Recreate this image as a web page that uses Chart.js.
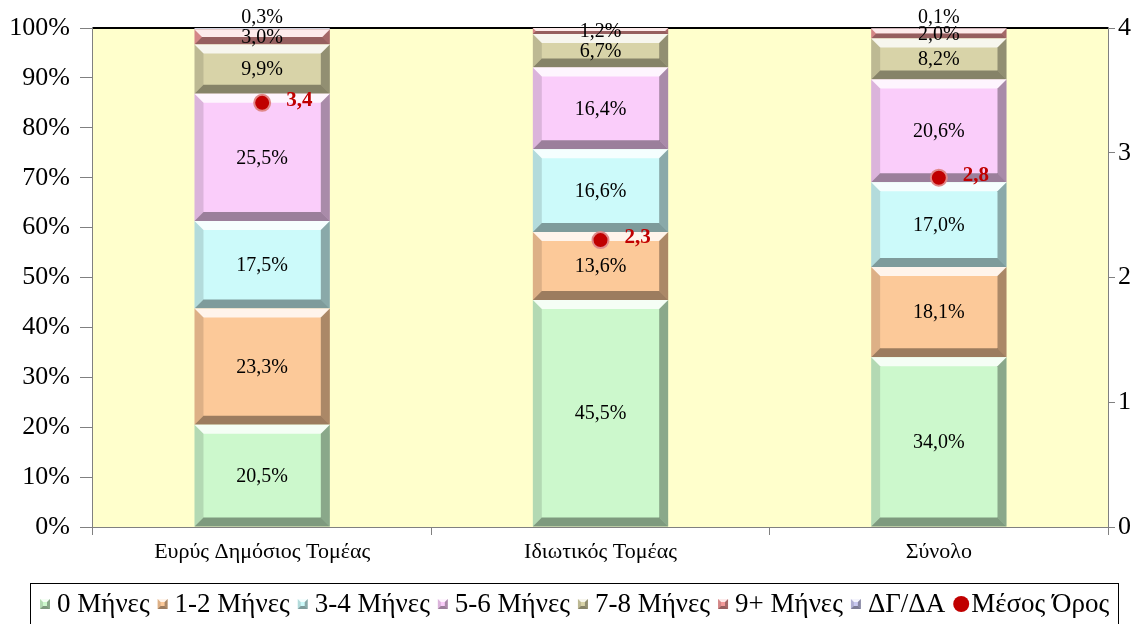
<!DOCTYPE html>
<html>
<head>
<meta charset="utf-8">
<script src="https://cdn.jsdelivr.net/npm/chart.js@4"></script>
<style>
  body { margin: 0; background: #fff; }
  #wrap { width: 1146px; height: 624px; }
</style>
</head>
<body>
<div id="wrap"><canvas id="chart" width="1146" height="624"></canvas></div>
<script>
const categories = ['Ευρύς Δημόσιος Τομέας', 'Ιδιωτικός Τομέας', 'Σύνολο'];
const seriesNames = ['0 Μήνες', '1-2 Μήνες', '3-4 Μήνες', '5-6 Μήνες', '7-8 Μήνες', '9+ Μήνες', 'ΔΓ/ΔΑ'];
const meanName = 'Μέσος Όρος';
const months0 = [20.5, 45.5, 34.0];
const months12 = [23.3, 13.6, 18.1];
const months34 = [17.5, 16.6, 17.0];
const months56 = [25.5, 16.4, 20.6];
const months78 = [9.9, 6.7, 8.2];
const months9 = [3.0, 1.2, 2.0];
const noAnswer = [0.3, 0, 0.1];
const meanValues = [3.4, 2.3, 2.8];
const leftTicks = [0, 10, 20, 30, 40, 50, 60, 70, 80, 90, 100];
const rightTicks = [0, 1, 2, 3, 4];

const seriesValues = [months0, months12, months34, months56, months78, months9, noAnswer];
const seriesColors = ['#ccf8cc', '#fcc999', '#ccfafa', '#facdfa', '#d8d3a8', '#f29a9a', '#c8c8f0'];
const meanColor = '#c00000';
const FONT = '"Liberation Serif", "Times New Roman", serif';

function fmt(v) {
    return v.toFixed(1).replace('.', ',');
}

function bevelRect(ctx, l, t, r, b, size) {
    const h = b - t;
    if (h < 0.5) return;
    const s = Math.min(size, h / 2, (r - l) / 2);
    const poly = (pts, col) => {
        ctx.fillStyle = col;
        ctx.beginPath();
        ctx.moveTo(pts[0][0], pts[0][1]);
        pts.slice(1).forEach(q => ctx.lineTo(q[0], q[1]));
        ctx.closePath();
        ctx.fill();
    };
    poly([[l, t], [r, t], [r - s, t + s], [l + s, t + s]], 'rgba(255,255,255,0.8)');
    poly([[l, t], [l + s, t + s], [l + s, b - s], [l, b]], 'rgba(0,0,0,0.12)');
    poly([[r, t], [r, b], [r - s, b - s], [r - s, t + s]], 'rgba(0,0,0,0.32)');
    poly([[l, b], [l + s, b - s], [r - s, b - s], [r, b]], 'rgba(0,0,0,0.38)');
}

// yellow plot area with a black top edge
const plotBackground = {
    id: 'plotBackground',
    beforeDatasetsDraw(chart) {
        const { ctx, chartArea: a } = chart;
        ctx.save();
        ctx.fillStyle = '#ffffcc';
        ctx.fillRect(a.left, a.top, a.right - a.left, a.bottom - a.top);
        ctx.strokeStyle = '#000';
        ctx.lineWidth = 2;
        ctx.beginPath();
        ctx.moveTo(a.left, a.top);
        ctx.lineTo(a.right, a.top);
        ctx.stroke();
        ctx.restore();
    }
};

// bevel right after each bar dataset so the dots stay on top
const bevel = {
    id: 'bevel',
    afterDatasetDraw(chart, args) {
        if (args.index >= seriesValues.length) return;
        const ctx = chart.ctx;
        ctx.save();
        args.meta.data.forEach(bar => {
            const p = bar.getProps(['x', 'y', 'base', 'width'], true);
            bevelRect(ctx, p.x - p.width / 2, Math.min(p.y, p.base), p.x + p.width / 2, Math.max(p.y, p.base), 9);
        });
        ctx.restore();
    }
};

// value labels on segments, mean labels next to the red dots
const valueLabels = {
    id: 'valueLabels',
    afterDraw(chart) {
        const ctx = chart.ctx;
        ctx.save();
        ctx.textAlign = 'center';
        ctx.textBaseline = 'middle';
        ctx.font = '20px ' + FONT;
        ctx.fillStyle = '#000';
        seriesValues.forEach((vals, di) => {
            chart.getDatasetMeta(di).data.forEach((bar, i) => {
                const v = vals[i];
                if (!v) return;
                const p = bar.getProps(['x', 'y', 'base'], true);
                if (di === seriesValues.length - 1) {
                    ctx.fillText(fmt(v) + '%', p.x, p.y - 10);
                } else {
                    ctx.fillText(fmt(v) + '%', p.x, (p.y + p.base) / 2 + 1);
                }
            });
        });
        ctx.font = 'bold 21px ' + FONT;
        ctx.fillStyle = meanColor;
        ctx.textAlign = 'left';
        chart.getDatasetMeta(seriesValues.length).data.forEach((pt, i) => {
            ctx.fillText(fmt(meanValues[i]), pt.x + 24, pt.y - 2);
        });
        ctx.restore();
    }
};

// boxed legend drawn by hand: tight spacing like the original
const boxedLegend = {
    id: 'boxedLegend',
    afterDraw(chart) {
        const ctx = chart.ctx;
        const cy = 604;
        ctx.save();
        ctx.strokeStyle = '#000';
        ctx.lineWidth = 1;
        ctx.strokeRect(30.5, 583.5, 1088, 45);
        ctx.font = '27px ' + FONT;
        ctx.textBaseline = 'middle';
        ctx.textAlign = 'left';
        let x = 40;
        seriesNames.forEach((name, i) => {
            ctx.fillStyle = seriesColors[i];
            ctx.fillRect(x, cy - 5, 10, 10);
            bevelRect(ctx, x, cy - 5, x + 10, cy + 5, 3);
            x += 17;
            ctx.fillStyle = '#000';
            ctx.fillText(name, x, cy + 1);
            x += ctx.measureText(name).width + 8;
        });
        ctx.fillStyle = meanColor;
        ctx.beginPath();
        ctx.arc(x + 8, cy, 8, 0, Math.PI * 2);
        ctx.fill();
        x += 18;
        ctx.fillStyle = '#000';
        ctx.fillText(meanName, x, cy + 1);
        ctx.restore();
    }
};

const datasets = seriesValues.map((vals, i) => ({
    type: 'bar',
    label: seriesNames[i],
    data: vals,
    backgroundColor: seriesColors[i],
    borderWidth: 0,
    barPercentage: 0.8,
    categoryPercentage: 0.5,
    yAxisID: 'y',
    order: 2
}));
datasets.push({
    type: 'line',
    label: meanName,
    data: meanValues,
    showLine: false,
    pointRadius: 8,
    pointHoverRadius: 8,
    pointBackgroundColor: meanColor,
    pointBorderColor: '#e08888',
    pointBorderWidth: 2,
    backgroundColor: meanColor,
    borderColor: meanColor,
    yAxisID: 'y1',
    order: 1
});

new Chart(document.getElementById('chart'), {
    data: { labels: categories, datasets: datasets },
    options: {
        responsive: false,
        animation: false,
        layout: { padding: { top: 28, left: 0, right: 0, bottom: 42 } },
        plugins: {
            tooltip: { enabled: false },
            legend: { display: false }
        },
        scales: {
            x: {
                stacked: true,
                grid: { drawOnChartArea: false, offset: true, color: '#808080', tickLength: 8 },
                border: { color: '#808080', width: 2 },
                ticks: { font: { family: FONT, size: 22 }, color: '#000', padding: 4 },
                afterFit(scale) { scale.height = 55; }
            },
            y: {
                stacked: true,
                min: 0,
                max: 100,
                afterBuildTicks(scale) { scale.ticks = leftTicks.map(v => ({ value: v })); },
                ticks: { font: { family: FONT, size: 26 }, color: '#000', callback: v => v + '%', padding: 10 },
                grid: { drawOnChartArea: false, color: '#808080', tickLength: 13 },
                border: { color: '#808080', width: 2 },
                afterFit(scale) { scale.width = 93; }
            },
            y1: {
                position: 'right',
                stacked: false,
                min: 0,
                max: 4,
                afterBuildTicks(scale) { scale.ticks = rightTicks.map(v => ({ value: v })); },
                ticks: { font: { family: FONT, size: 26 }, color: '#000', padding: 3 },
                grid: { drawOnChartArea: false, color: '#808080', tickLength: 7 },
                border: { color: '#808080', width: 2 },
                afterFit(scale) { scale.width = 38; }
            }
        }
    },
    plugins: [plotBackground, bevel, valueLabels, boxedLegend]
});
</script>
</body>
</html>
